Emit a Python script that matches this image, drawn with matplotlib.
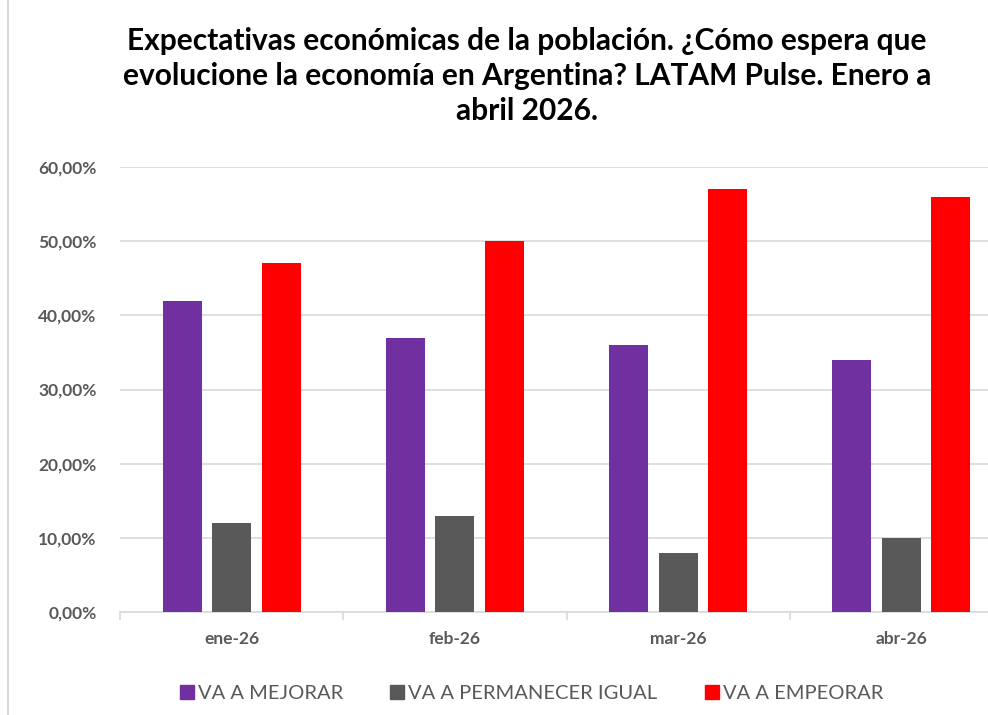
import matplotlib.pyplot as plt
from matplotlib.lines import Line2D
from matplotlib.ticker import FuncFormatter, FixedLocator
import numpy as np

meses = ["ene-26", "feb-26", "mar-26", "abr-26"]
mejorar = [42, 37, 36, 34]
igual = [12, 13, 8, 10]
empeorar = [47, 50, 57, 56]

series = ["VA A MEJORAR", "VA A PERMANECER IGUAL", "VA A EMPEORAR"]
colores = ["#7030a0", "#595959", "#ff0000"]

plt.rcParams['font.family'] = ['Lato', 'DejaVu Sans']

fig = plt.figure(figsize=(9.88, 7.15), dpi=100)
ax = fig.add_axes([120 / 988, 103 / 715, 893 / 988, 445 / 715])

x = np.arange(len(meses))
ancho = 0.175
paso = 0.222
for i, (vals, col) in enumerate(zip([mejorar, igual, empeorar], colores)):
    ax.bar(x + (i - 1) * paso, vals, ancho, color=col, zorder=3)

ax.set_xlim(-0.5, len(meses) - 0.5)
ax.set_ylim(0, 60)
ax.set_yticks(range(0, 61, 10))
ax.yaxis.set_major_formatter(FuncFormatter(lambda v, p: f"{v:.2f}%".replace(".", ",")))
ax.grid(axis="y", color="#d9d9d9", linewidth=1.2, zorder=0)

ax.set_xticks(x)
ax.set_xticklabels(meses)
ax.xaxis.set_minor_locator(FixedLocator(np.arange(-0.5, len(meses), 1)))
ax.tick_params(axis="x", which="major", length=0, pad=14)
ax.tick_params(axis="x", which="minor", length=6, color="#d9d9d9", width=1.2)
ax.tick_params(axis="y", length=0, pad=17)
for lbl in ax.get_xticklabels():
    lbl.set_fontsize(12.5)
    lbl.set_fontweight("bold")
    lbl.set_color("#595959")
for lbl in ax.get_yticklabels():
    lbl.set_fontsize(12.5)
    lbl.set_fontweight("bold")
    lbl.set_color("#595959")

for s in ["top", "right", "left"]:
    ax.spines[s].set_visible(False)
ax.spines["bottom"].set_color("#d9d9d9")
ax.spines["bottom"].set_linewidth(1.2)

fig.text(527 / 988, 1 - 76 / 715,
         "Expectativas económicas de la población. ¿Cómo espera que\n"
         "evolucione la economía en Argentina? LATAM Pulse. Enero a\n"
         "abril 2026.",
         ha="center", va="center", fontsize=21.5, fontweight="bold",
         linespacing=1.32, color="black")

handles = [Line2D([], [], marker="s", linestyle="none", markersize=10,
                  markerfacecolor=c, markeredgecolor=c) for c in colores]
fig.legend(handles, series, loc="center", bbox_to_anchor=(531 / 988, 1 - 693 / 715),
           ncol=3, frameon=False, fontsize=14.5, labelcolor="#595959",
           handletextpad=0.15, columnspacing=2.3, handlelength=0.8)

# borde del área del gráfico
fig.add_artist(Line2D([8 / 988, 8 / 988], [0, 1], color="#d9d9d9", linewidth=1.5))

fig.savefig("out.png", dpi=100)
